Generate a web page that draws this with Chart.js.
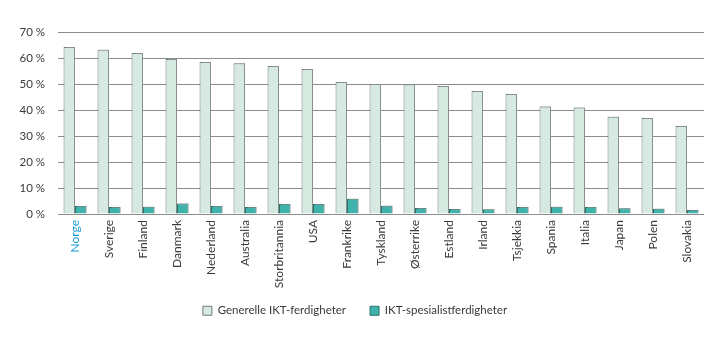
<!DOCTYPE html>
<html>
<head>
<meta charset="utf-8">
<script src="https://cdn.jsdelivr.net/npm/chart.js@4/dist/chart.umd.min.js"></script>
<style>
  html, body { margin: 0; padding: 0; background: #ffffff; }
  #wrap { width: 719px; height: 341px; }
</style>
</head>
<body>
<div id="wrap"><canvas id="chart" width="719" height="341"></canvas></div>
<script>
// Land, sortert etter andel med generelle IKT-ferdigheter
const countries = ['Norge', 'Sverige', 'Finland', 'Danmark', 'Nederland', 'Australia',
  'Storbritannia', 'USA', 'Frankrike', 'Tyskland', 'Østerrike', 'Estland', 'Irland',
  'Tsjekkia', 'Spania', 'Italia', 'Japan', 'Polen', 'Slovakia'];

// Andel (prosent)
const generelle = [64.2, 63.2, 61.9, 59.6, 58.5, 58.0, 56.9, 55.8, 50.8, 50.0, 49.9,
  49.2, 47.3, 46.2, 41.3, 41.0, 37.4, 36.9, 33.8];
const spesialist = [3.1, 2.7, 2.8, 4.0, 3.1, 2.7, 3.8, 3.8, 5.9, 3.2, 2.3, 1.9, 1.8,
  2.7, 2.8, 2.7, 2.2, 2.0, 1.5];

const yTicks = [0, 10, 20, 30, 40, 50, 60, 70];

const seriesNames = ['Generelle IKT-ferdigheter', 'IKT-spesialistferdigheter'];

const FONT = 'Lato, "Liberation Sans", sans-serif';

// Lys skygge opp og til høyre for søylene
const barShadow = {
  id: 'barShadow',
  beforeDatasetDraw(chart) {
    const c = chart.ctx;
    c.save();
    c.shadowColor = 'rgba(150,158,154,0.6)';
    c.shadowOffsetX = 1.5;
    c.shadowOffsetY = -1;
    c.shadowBlur = 0;
  },
  afterDatasetDraw(chart) {
    chart.ctx.restore();
  }
};

// Kompakt forklaring: lavere boks, og flyttet litt opp mot aksetekstene
const LEGEND_HEIGHT = 45;
const LEGEND_SHIFT = -9;
const legendPlacement = {
  id: 'legendPlacement',
  afterInit(chart) {
    const lg = chart.legend;
    if (!lg) return;
    const fit = lg.fit.bind(lg);
    lg.fit = function () { fit(); this.height = LEGEND_HEIGHT; };
  },
  afterLayout(chart) {
    const lg = chart.legend;
    if (!lg) return;
    lg.top += LEGEND_SHIFT;
    lg.bottom += LEGEND_SHIFT;
  }
};

new Chart(document.getElementById('chart'), {
  type: 'bar',
  data: {
    labels: countries,
    datasets: [
      {
        label: seriesNames[0],
        data: generelle,
        backgroundColor: '#d6eae1',
        borderColor: '#707c77',
        borderWidth: 1,
        categoryPercentage: 0.675,
        barPercentage: 1.0
      },
      {
        label: seriesNames[1],
        data: spesialist,
        backgroundColor: '#3fb2ac',
        borderColor: '#2a6f6c',
        borderWidth: 1,
        categoryPercentage: 0.675,
        barPercentage: 1.0
      }
    ]
  },
  options: {
    responsive: false,
    animation: false,
    devicePixelRatio: 1,
    layout: { padding: { left: 6, right: 15, top: 32, bottom: 6 } },
    plugins: {
      tooltip: { enabled: false },
      legend: {
        position: 'bottom',
        labels: {
          font: { family: FONT, size: 11.5 },
          color: '#3a3a3a',
          boxWidth: 9,
          boxHeight: 9,
          padding: 24
        }
      }
    },
    scales: {
      x: {
        grid: { display: false, drawTicks: false },
        border: { display: false },
        ticks: {
          minRotation: 90,
          maxRotation: 90,
          padding: 6,
          autoSkip: false,
          font: { family: FONT, size: 12 },
          color: (ctx) => ctx.index === 0 ? '#1d9bd7' : '#3a3a3a'
        },
        afterFit(scale) { scale.height = 76; }
      },
      y: {
        min: 0,
        max: 70,
        afterBuildTicks(scale) { scale.ticks = yTicks.map(v => ({ value: v })); },
        grid: { color: '#8c8c8c', lineWidth: 1, drawTicks: false },
        border: { display: false },
        ticks: {
          padding: 13,
          font: { family: FONT, size: 11.5 },
          color: '#3a3a3a',
          callback: (v) => v + ' %'
        },
        afterFit(scale) { scale.width = 52; }
      }
    }
  },
  plugins: [barShadow, legendPlacement]
});
</script>
</body>
</html>
